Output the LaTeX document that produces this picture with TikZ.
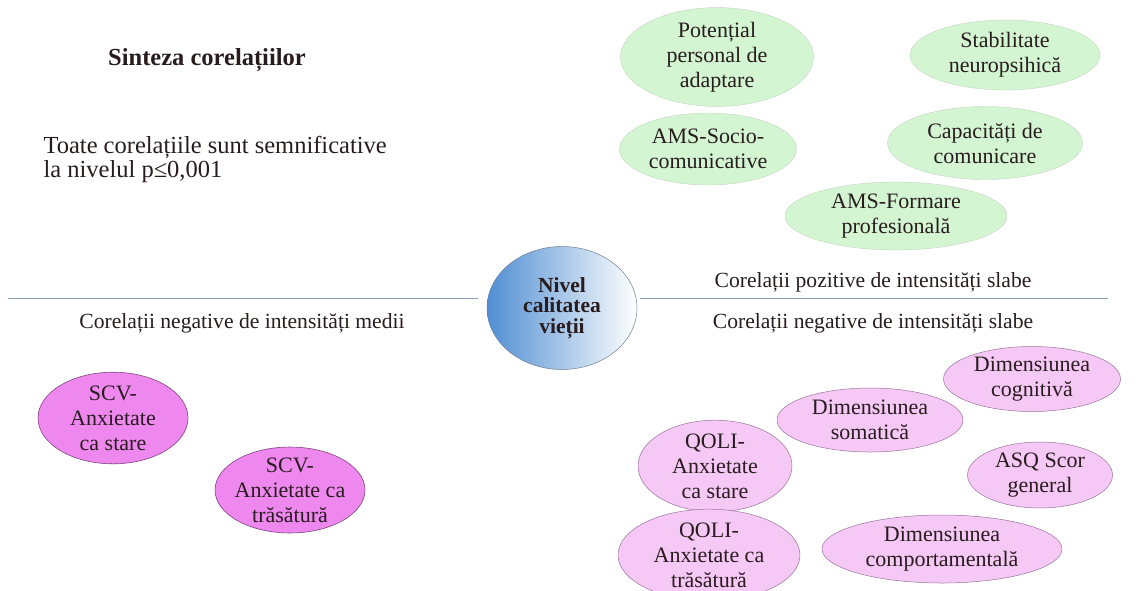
\documentclass[tikz,border=0pt]{standalone}
\usepackage{fontspec}
\setmainfont{Liberation Serif}
\usetikzlibrary{shapes.geometric}

\definecolor{txtdark}{RGB}{40,28,30}
\definecolor{posgreen}{RGB}{212,245,210}
\definecolor{medpink}{RGB}{238,136,238}
\definecolor{weakpink}{RGB}{246,200,246}
\definecolor{rulegray}{RGB}{140,160,185}
\definecolor{qolblue}{RGB}{80,142,210}

\begin{document}
\begin{tikzpicture}[x=1pt, y=-1pt,
    every node/.style={text=txtdark},
    bubble/.style={ellipse, inner sep=0pt, align=center,
        font=\fontsize{22}{25}\selectfont},
    posbubble/.style={bubble, fill=posgreen, draw=posgreen!75!black!60, line width=0.4pt},
    negmed/.style={bubble, fill=medpink, draw=violet!45!gray, line width=0.6pt},
    negweak/.style={bubble, fill=weakpink, draw=violet!35!gray!80, line width=0.5pt},
    caption/.style={font=\fontsize{21.6}{24}\selectfont}]
    \useasboundingbox (0,0) rectangle (1138,590);

    % title and note
    \node[font=\bfseries\fontsize{24.5}{26}\selectfont] (title) at (207,60) {Sinteza corelațiilor};
    \node[anchor=west, align=left, font=\fontsize{24.5}{24}\selectfont] (note) at (40,159)
        {Toate corelațiile sunt semnificative\\la nivelul p≤0,001};

    % central node and dividing rule
    \node[ellipse, minimum width=150pt, minimum height=123pt, inner sep=0pt,
        left color=qolblue, right color=white,
        draw=rulegray!80!black, line width=0.5pt, align=center,
        font=\bfseries\fontsize{21.5}{20.5}\selectfont] (qol) at (562,308)
        {Nivel\\calitatea\\vieții};
    \coordinate (lend) at (8,298);
    \coordinate (rend) at (1108,298);
    \draw[rulegray, line width=0.8pt] (lend) -- ([xshift=-9pt]qol.west |- lend);
    \draw[rulegray, line width=0.8pt] ([xshift=3pt]qol.east |- rend) -- (rend);

    \node[caption] (cneg) at (242,323) {Corelații negative de intensități medii};
    \node[caption] (cpos) at (873,282) {Corelații pozitive de intensități slabe};
    \node[caption] (cslab) at (873,323) {Corelații negative de intensități slabe};

    % positive, weak
    \node[posbubble, minimum width=193pt, minimum height=87pt] (pot) at (717,57)
        {Potențial\\personal de\\adaptare};
    \node[posbubble, minimum width=190pt, minimum height=70pt] (stab) at (1005,55)
        {Stabilitate\\neuropsihică};
    \node[posbubble, minimum width=177pt, minimum height=72pt] (amssc) at (708,149)
        {AMS-Socio-\\comunicative};
    \node[posbubble, minimum width=195pt, minimum height=73pt] (capc) at (985,143)
        {Capacități de\\comunicare};
    \node[posbubble, minimum width=222pt, minimum height=68pt] (amsfp) at (896,216)
        {AMS-Formare\\profesională};

    % negative, medium
    \node[negmed, minimum width=150pt, minimum height=87pt] (scvs) at (113,418)
        {SCV-\\Anxietate\\ca stare};
    \node[negmed, inner xsep=-7pt, inner ysep=-2pt, minimum width=150pt, minimum height=85pt] (scvt) at (290,490)
        {SCV-\\Anxietate ca\\trăsătură};

    % negative, weak
    \node[negweak, minimum width=177pt, minimum height=65pt] (dcog) at (1032,379)
        {Dimensiunea\\cognitivă};
    \node[negweak, minimum width=186pt, minimum height=64pt] (dsom) at (870,420)
        {Dimensiunea\\somatică};
    \node[negweak, minimum width=154pt, minimum height=88pt] (qols) at (715,466)
        {QOLI-\\Anxietate\\ca stare};
    \node[negweak, minimum width=145pt, minimum height=66pt] (asq) at (1040,475)
        {ASQ Scor\\general};
    \node[negweak, minimum width=182pt, minimum height=82pt] (qolt) at (709,555)
        {QOLI-\\Anxietate ca\\trăsătură};
    \node[negweak, minimum width=240pt, minimum height=68pt] (dcomp) at (942,549)
        {Dimensiunea\\comportamentală};
\end{tikzpicture}
\end{document}
